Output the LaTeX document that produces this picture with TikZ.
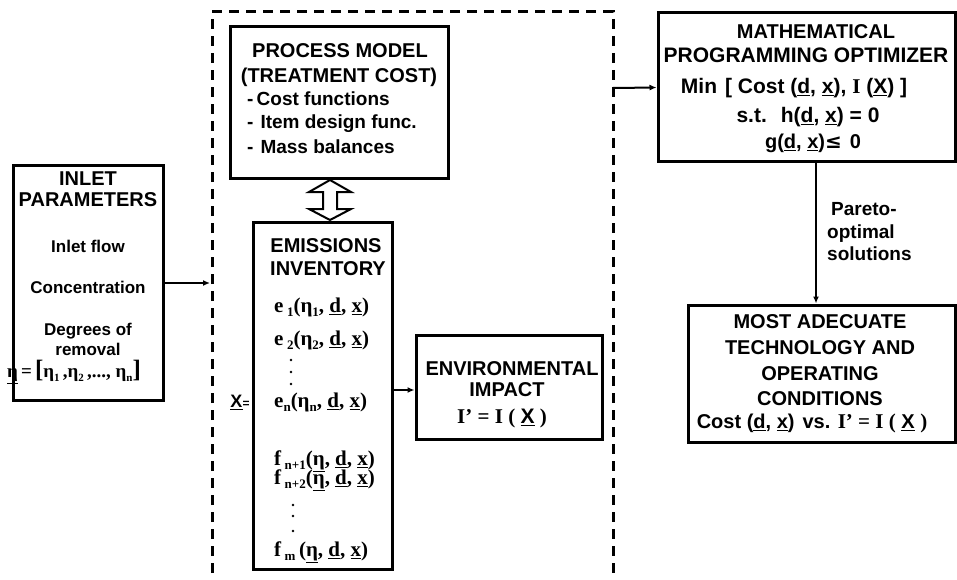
\documentclass[tikz,border=0pt]{standalone}
\usepackage{fontspec}
\setmainfont{Liberation Sans}
\newfontfamily\tms{Liberation Serif}
\newfontfamily\ars{Liberation Sans}
\newfontfamily\dvs{DejaVu Sans}
\usetikzlibrary{arrows.meta,calc}
\newcommand\sbs[1]{\raisebox{-0.4ex}{\fontsize{13}{13}\selectfont #1}}
\newcommand\ssb[1]{\raisebox{-0.4ex}{\fontsize{11}{11}\selectfont #1}}
\newcommand\ul[1]{\underline{#1}}
\tikzset{
  box/.style={draw, line width=3pt, inner sep=0pt},
  txt/.style={anchor=mid, inner sep=0pt, yshift=-3pt},
  hd/.style={txt, font=\fontsize{20}{24}\selectfont\bfseries},
  bd/.style={txt, font=\fontsize{19}{23}\selectfont\bfseries},
  bg/.style={txt, font=\fontsize{21}{24}\selectfont\bfseries},
  sm/.style={txt, font=\fontsize{17}{20}\selectfont\bfseries},
  fm/.style={txt, font=\fontsize{21}{24}\selectfont\tms\bfseries, anchor=mid west},
  fmc/.style={txt, font=\fontsize{21}{24}\selectfont\tms\bfseries},
  conn/.style={line width=2pt, -{Latex[length=7pt,width=6pt]}},
  dsh/.style={line width=3pt, dash pattern=on 10pt off 7pt},
  dotm/.style={circle, fill, inner sep=0pt, minimum size=2.8pt}
}
\begin{document}
\begin{tikzpicture}[x=1pt,y=-1pt]
\useasboundingbox (0,0) rectangle (957,580);

% dashed frame
\draw[dsh] (212,590) -- (212,12) -- (613,12) -- (613,590);
\coordinate (inL) at (210,283);
\coordinate (outR) at (613,88);

% boxes
\node[box, minimum width=150pt, minimum height=234pt] (inlet) at (88,283) {};
\node[box, minimum width=218pt, minimum height=151pt] (proc) at (339,102.5) {};
\node[box, minimum width=139pt, minimum height=347pt] (emis) at (322.5,395.5) {};
\node[box, minimum width=186pt, minimum height=104pt] (env) at (509,387) {};
\node[box, minimum width=297pt, minimum height=149pt] (opt) at (806.5,87.5) {};
\node[box, minimum width=267pt, minimum height=137pt] (most) at (821.5,373.5) {};

% connectors
\draw[conn] (inlet.east) -- (inL);
\draw[conn] (emis.east |- 0,390) -- (env.west |- 0,390);
\draw[conn] (outR) -- (opt.west);
\coordinate (pa) at (816,0);
\draw[conn] (pa |- opt.south) -- (pa |- most.north);

% double arrow
\begin{scope}[shift={(330,200)}]
\draw[line width=2pt, fill=white, line join=miter]
  (0,-20) -- (21,-8) -- (7,-8) -- (7,9) -- (21,9) -- (0,20) -- (-21,9) -- (-7,9) -- (-7,-8) -- (-21,-8) -- cycle;
\end{scope}

% inlet text
\node[hd] (i1) at (88,180) {INLET};
\node[hd] (i2) at (88,201) {PARAMETERS};
\node[sm] (i3) at (88,247) {Inlet flow};
\node[sm] (i4) at (88,288) {Concentration};
\node[sm] (i5) at (88,330) {Degrees of};
\node[sm] (i6) at (88,350) {removal};
\node[fmc, font=\fontsize{19}{22}\selectfont\tms\bfseries] (i7) at (74,372) {\ul{η}\,=\,{\fontsize{25}{25}\selectfont[}η\ssb{1}\,,η\ssb{2}\,,..., η\ssb{n}{\fontsize{25}{25}\selectfont]}};

% process model text
\node[hd] (p1) at (340,52) {PROCESS MODEL};
\node[hd] (p2) at (339,77) {(TREATMENT COST)};
\node[bd, anchor=mid west] (p3) at (247,100) {-\,Cost functions};
\node[bd, anchor=mid west] (p4) at (247,123) {-\hspace{7pt}Item design func.};
\node[bd, anchor=mid west] (p5) at (247,148) {-\hspace{7pt}Mass balances};

% emissions text
\node[hd] (m1) at (326,247) {EMISSIONS};
\node[hd] (m2) at (328,270) {INVENTORY};
\node[fm] (m3) at (274,307) {e\,\sbs{1}(η\sbs{1}, \ul{d}, \ul{x})};
\node[fm] (m4) at (274,340) {e\,\sbs{2}(η\sbs{2}, \ul{d}, \ul{x})};
\node[dotm] (d1) at (291,360) {};
\node[dotm] (d2) at (291,372) {};
\node[dotm] (d3) at (291,384) {};
\node[fm] (m5) at (274,402) {e\sbs{n}(η\sbs{n}, \ul{d}, \ul{x})};
\node[fm] (m6) at (274,460) {f\,\sbs{n+1}(\ul{η}, \ul{d}, \ul{x})};
\node[fm] (m7) at (274,479) {f\,\sbs{n+2}(\ul{η}, \ul{d}, \ul{x})};
\node[dotm] (d4) at (293,505) {};
\node[dotm] (d5) at (293,516) {};
\node[dotm] (d6) at (293,531) {};
\node[fm] (m8) at (274,551) {f\,\sbs{m}\,(\ul{η}, \ul{d}, \ul{x})};
\node[txt, font=\fontsize{18}{20}\selectfont\bfseries] (xeq) at (240,402) {\ul{X}{\fontsize{12}{12}\selectfont =}};

% environmental impact
\node[hd] (v1) at (512,370) {ENVIRONMENTAL};
\node[hd] (v2) at (507,391) {IMPACT};
\node[fmc] (v3) at (502,418) {I’ = I ( {\ars\ul{X}} )};

% optimizer
\node[hd] (o1) at (816,33) {MATHEMATICAL};
\node[bg] (o2) at (806,57) {PROGRAMMING OPTIMIZER};
\node[bg] (o3) at (794,88) {Min\hspace{8pt}[ Cost (\ul{d}, \ul{x}), {\tms I} (\ul{X}) ]};
\node[bg] (o4) at (808,117) {s.t.\hspace{14pt}h(\ul{d}, \ul{x}) = 0};
\node[txt, font=\fontsize{20}{24}\selectfont\bfseries] (o5) at (813,143) {g(\ul{d}, \ul{x}){\dvs ≤}\hspace{8pt}0};

% pareto label
\node[bd, anchor=mid west] (q1) at (831,210) {Pareto-};
\node[bd, anchor=mid west] (q2) at (827,233) {optimal};
\node[bd, anchor=mid west] (q3) at (827,255) {solutions};

% most adequate
\node[hd] (s1) at (820,323) {MOST ADECUATE};
\node[hd] (s2) at (820,349) {TECHNOLOGY AND};
\node[hd] (s3) at (820,375) {OPERATING};
\node[hd] (s4) at (820,400) {CONDITIONS};
\node[txt, font=\fontsize{20}{23}\selectfont\bfseries] (s5) at (812,423) {Cost (\ul{d}, \ul{x})\hspace{8pt}vs. {\tms\fontsize{21}{23}\selectfont I’ = I (} \ul{X} {\tms\fontsize{21}{23}\selectfont )}};
\end{tikzpicture}
\end{document}
